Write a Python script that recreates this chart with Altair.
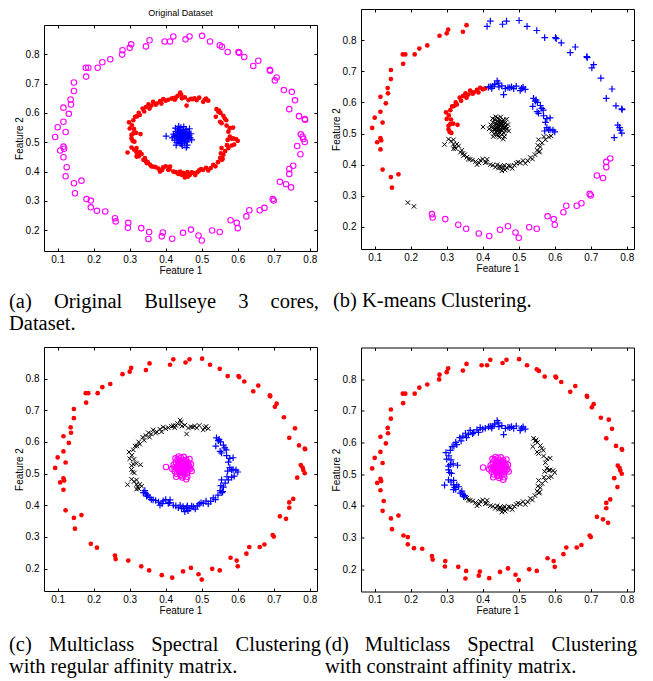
import altair as alt
import pandas as pd

# ---------------- axis settings ----------------
X_TICKS = [0.1, 0.2, 0.3, 0.4, 0.5, 0.6, 0.7, 0.8]
Y_TICKS = [0.2, 0.3, 0.4, 0.5, 0.6, 0.7, 0.8]
X_DOMAIN = [0.062, 0.82]
Y_DOMAIN = [0.129, 0.9]

# ---------------- data ----------------
# outer ring, upper-left arc
outer_upper_left = [
    (0.093, 0.518), (0.100, 0.551), (0.116, 0.570), (0.116, 0.618), (0.122, 0.535),
    (0.107, 0.472), (0.116, 0.485), (0.118, 0.478), (0.116, 0.449), (0.122, 0.384),
    (0.131, 0.597), (0.137, 0.629), (0.136, 0.646), (0.145, 0.675), (0.145, 0.704),
    (0.145, 0.360), (0.148, 0.326), (0.166, 0.369), (0.179, 0.724), (0.178, 0.754),
    (0.185, 0.754), (0.211, 0.754), (0.224, 0.773), (0.246, 0.783), (0.280, 0.814),
    (0.300, 0.822), (0.304, 0.834), (0.345, 0.827), (0.355, 0.848),
]
# outer ring, two points at lower left
outer_lower_left = [(0.192, 0.278), (0.209, 0.266)]
# outer ring, bottom arc
outer_bottom = [
    (0.259, 0.241), (0.261, 0.230), (0.296, 0.225), (0.332, 0.207), (0.354, 0.194),
    (0.389, 0.179), (0.418, 0.171), (0.448, 0.191), (0.470, 0.202), (0.491, 0.182),
    (0.500, 0.165), (0.529, 0.199), (0.550, 0.194), (0.580, 0.234), (0.597, 0.225),
    (0.600, 0.207), (0.624, 0.247), (0.632, 0.268), (0.661, 0.268), (0.674, 0.276),
    (0.697, 0.306), (0.700, 0.301), (0.717, 0.365), (0.734, 0.357), (0.743, 0.392),
    (0.743, 0.409), (0.754, 0.420),
]
# outer ring, upper-right arc
outer_upper_right = [
    (0.412, 0.844), (0.421, 0.861), (0.455, 0.851), (0.466, 0.861), (0.501, 0.863),
    (0.523, 0.844), (0.550, 0.831), (0.572, 0.808), (0.602, 0.808), (0.604, 0.805),
    (0.618, 0.791), (0.643, 0.760), (0.657, 0.778), (0.689, 0.747), (0.690, 0.744),
    (0.703, 0.711), (0.708, 0.721), (0.728, 0.678), (0.743, 0.613), (0.759, 0.643),
    (0.770, 0.589), (0.786, 0.579), (0.787, 0.577), (0.775, 0.527), (0.780, 0.519),
    (0.782, 0.511), (0.786, 0.501), (0.765, 0.487),
]
# outer-ring points visible only in panels (a) and (d)
outer_extra = [
    (0.125, 0.415), (0.180, 0.306), (0.192, 0.301), (0.232, 0.264), (0.279, 0.799),
    (0.397, 0.844), (0.295, 0.208), (0.352, 0.170), (0.392, 0.192), (0.748, 0.346),
    (0.774, 0.459), (0.750, 0.672), (0.556, 0.826),
]

# inner ring, segment by segment (counter-clockwise)
inner_top = [
    (0.512, 0.649), (0.504, 0.638), (0.493, 0.652), (0.486, 0.644), (0.475, 0.647),
    (0.463, 0.644), (0.453, 0.653), (0.458, 0.625), (0.440, 0.669), (0.443, 0.662),
    (0.433, 0.658), (0.428, 0.652), (0.421, 0.651), (0.416, 0.649), (0.518, 0.642),
    (0.470, 0.648), (0.480, 0.650), (0.508, 0.645), (0.445, 0.650), (0.425, 0.645),
]
inner_upper_left = [
    (0.407, 0.645), (0.400, 0.642), (0.393, 0.647), (0.384, 0.640), (0.375, 0.632),
    (0.365, 0.638), (0.360, 0.625), (0.352, 0.629), (0.345, 0.620), (0.336, 0.615),
    (0.340, 0.605), (0.328, 0.593), (0.320, 0.588), (0.315, 0.587), (0.325, 0.600),
    (0.310, 0.575), (0.298, 0.568), (0.306, 0.558), (0.300, 0.547), (0.312, 0.545),
    (0.310, 0.530), (0.305, 0.525), (0.318, 0.532), (0.330, 0.528), (0.305, 0.513),
    (0.313, 0.502), (0.308, 0.505), (0.372, 0.628), (0.388, 0.632), (0.355, 0.615),
]
inner_left = [
    (0.305, 0.482), (0.319, 0.480), (0.294, 0.465), (0.319, 0.466), (0.328, 0.466),
    (0.312, 0.475), (0.322, 0.458), (0.333, 0.460), (0.319, 0.451), (0.325, 0.452),
]
inner_lower_left = [
    (0.342, 0.446), (0.338, 0.440), (0.345, 0.436), (0.350, 0.432), (0.347, 0.429),
]
inner_bottom = [
    (0.356, 0.424), (0.360, 0.418), (0.365, 0.417), (0.372, 0.415), (0.380, 0.410),
    (0.384, 0.400), (0.390, 0.405), (0.393, 0.414), (0.400, 0.418), (0.407, 0.406),
    (0.412, 0.417), (0.421, 0.400), (0.428, 0.398), (0.435, 0.392), (0.444, 0.389),
    (0.448, 0.396), (0.453, 0.380), (0.458, 0.392), (0.462, 0.383), (0.467, 0.389),
    (0.472, 0.397), (0.477, 0.395), (0.482, 0.388), (0.488, 0.398), (0.493, 0.404),
    (0.498, 0.408), (0.504, 0.406), (0.512, 0.413), (0.518, 0.404), (0.525, 0.412),
    (0.532, 0.423), (0.538, 0.418), (0.545, 0.432), (0.551, 0.446), (0.556, 0.440),
    (0.558, 0.443), (0.560, 0.457), (0.553, 0.462), (0.565, 0.470), (0.555, 0.480),
    (0.574, 0.480), (0.583, 0.489), (0.590, 0.492), (0.570, 0.490), (0.410, 0.408),
    (0.440, 0.400), (0.450, 0.390), (0.460, 0.398),
]
inner_right = [
    (0.587, 0.513), (0.595, 0.511), (0.572, 0.508), (0.578, 0.519), (0.574, 0.536),
    (0.587, 0.550), (0.578, 0.548), (0.569, 0.557), (0.564, 0.581), (0.568, 0.575),
    (0.551, 0.570), (0.555, 0.565), (0.539, 0.587), (0.546, 0.604), (0.541, 0.613),
    (0.548, 0.608), (0.552, 0.600), (0.560, 0.590), (0.600, 0.505), (0.583, 0.512),
]
# central core
core = [
    (0.401, 0.521), (0.418, 0.515), (0.422, 0.528), (0.425, 0.507), (0.428, 0.536),
    (0.430, 0.519), (0.431, 0.499), (0.433, 0.545), (0.434, 0.512), (0.435, 0.526),
    (0.436, 0.532), (0.437, 0.505), (0.438, 0.518), (0.439, 0.540), (0.440, 0.522),
    (0.440, 0.496), (0.441, 0.514), (0.442, 0.550), (0.443, 0.528), (0.444, 0.509),
    (0.445, 0.535), (0.446, 0.519), (0.446, 0.488), (0.447, 0.503), (0.448, 0.543),
    (0.449, 0.525), (0.450, 0.514), (0.451, 0.531), (0.452, 0.497), (0.453, 0.521),
    (0.454, 0.508), (0.455, 0.538), (0.456, 0.516), (0.457, 0.482), (0.458, 0.527),
    (0.459, 0.501), (0.460, 0.520), (0.462, 0.534), (0.463, 0.511), (0.465, 0.524),
    (0.466, 0.546), (0.468, 0.515), (0.470, 0.529), (0.472, 0.508), (0.429, 0.490),
    (0.427, 0.548), (0.436, 0.554), (0.450, 0.553), (0.444, 0.494), (0.460, 0.490),
    (0.432, 0.523), (0.439, 0.530), (0.447, 0.512), (0.453, 0.529), (0.441, 0.507),
    (0.457, 0.544), (0.424, 0.520), (0.462, 0.518), (0.435, 0.515), (0.449, 0.536),
]

# cluster label of every segment in each panel
panel_a_labels = [
    (outer_upper_left, "magenta"), (outer_lower_left, "magenta"), (outer_bottom, "magenta"),
    (outer_upper_right, "magenta"), (outer_extra, "magenta"),
    (inner_top, "red"), (inner_upper_left, "red"), (inner_left, "red"),
    (inner_lower_left, "red"), (inner_bottom, "red"), (inner_right, "red"),
    (core, "blue"),
]
panel_b_labels = [
    (outer_upper_left, "red"), (outer_lower_left, "black"), (outer_bottom, "magenta"),
    (outer_upper_right, "blue"),
    (inner_top, "blue"), (inner_upper_left, "red"), (inner_left, "black"),
    (inner_lower_left, "black"), (inner_bottom, "black"), (inner_right, "blue"),
    (core, "black"),
]
panel_c_labels = [
    (outer_upper_left, "red"), (outer_lower_left, "red"), (outer_bottom, "red"),
    (outer_upper_right, "red"),
    (inner_top, "black"), (inner_upper_left, "black"), (inner_left, "black"),
    (inner_lower_left, "blue"), (inner_bottom, "blue"), (inner_right, "blue"),
    (core, "magenta"),
]
panel_d_labels = [
    (outer_upper_left, "red"), (outer_lower_left, "red"), (outer_bottom, "red"),
    (outer_upper_right, "red"), (outer_extra, "red"),
    (inner_top, "blue"), (inner_upper_left, "blue"), (inner_left, "blue"),
    (inner_lower_left, "blue"), (inner_bottom, "black"), (inner_right, "black"),
    (core, "magenta"),
]

# ---------------- styles ----------------
MARKS = {
    "red": dict(shape="circle", filled=True, size=22, color="#FF0000", opacity=1),
    "magenta": dict(shape="circle", filled=False, size=30, strokeWidth=1.1,
                    color="#FF00FF", opacity=1),
    "blue": dict(shape="M-1,0L1,0M0,-1L0,1", filled=False, size=44, strokeWidth=1.2,
                 color="#0000FF", opacity=1),
    "black": dict(shape="M-1,-1L1,1M-1,1L1,-1", filled=False, size=20, strokeWidth=1,
                  color="#000000", opacity=1),
}
DRAW_ORDER = ["magenta", "red", "black", "blue"]

SANS = "Liberation Sans"
SERIF = "Liberation Serif"
CAP_SIZE = 20.5
W = 273


def text_layer(txt, px, py, size=CAP_SIZE, font=SERIF, align="left",
               baseline="alphabetic"):
    return alt.Chart(pd.DataFrame({"k": [0]})).mark_text(
        text=txt, font=font, fontSize=size, align=align, baseline=baseline,
        color="black",
    ).encode(x=alt.value(px), y=alt.value(py))


def panel(labels, height, texts):
    rows = []
    for pts, cls in labels:
        for x, y in pts:
            rows.append({"x": x, "y": y, "cls": cls})
    df = pd.DataFrame(rows)
    xs = alt.Scale(domain=X_DOMAIN, nice=False, zero=False)
    ys = alt.Scale(domain=Y_DOMAIN, nice=False, zero=False)
    base = alt.Chart(df)
    main = base.mark_point(opacity=0).encode(
        x=alt.X("x:Q", scale=xs, axis=alt.Axis(
            orient="bottom", values=X_TICKS, format=".1f", tickSize=3, offset=-3,
            domain=False, grid=False, labelPadding=3, labelFlush=False,
            labelOverlap=False, title="Feature 1", titlePadding=1)),
        y=alt.Y("y:Q", scale=ys, axis=alt.Axis(
            orient="left", values=Y_TICKS, format=".1f", tickSize=3, offset=-3,
            domain=False, grid=False, labelPadding=5, labelFlush=False,
            labelOverlap=False, title="Feature 2", titlePadding=1)),
    )
    mirror = base.mark_point(opacity=0).encode(
        x=alt.X("x:Q", scale=xs, axis=alt.Axis(
            orient="top", values=X_TICKS, tickSize=3, offset=-3, domain=False,
            grid=False, labels=False, title=None)),
        y=alt.Y("y:Q", scale=ys, axis=alt.Axis(
            orient="right", values=Y_TICKS, tickSize=3, offset=-3, domain=False,
            grid=False, labels=False, title=None)),
    )
    layers = [main, mirror]
    present = set(df["cls"])
    for cls in DRAW_ORDER:
        if cls in present:
            layers.append(
                base.transform_filter(alt.datum.cls == cls)
                .mark_point(**MARKS[cls])
                .encode(x=alt.X("x:Q", scale=xs, axis=None),
                        y=alt.Y("y:Q", scale=ys, axis=None))
            )
    layers += texts
    return alt.layer(*layers).resolve_axis(
        x="independent", y="independent").properties(width=W, height=height)


# strip above panel (a) carrying its title
title_a = text_layer("Original Dataset", W / 2, 3.5, size=9, font=SANS,
                     align="center", baseline="middle").properties(
    width=W, height=14, view=alt.ViewBackground(stroke="transparent"))

pa = panel(panel_a_labels, 226, [
    text_layer("(a)", -35, 283),
    text_layer("Original", 9.9, 283),
    text_layer("Bullseye", 100.3, 283),
    text_layer("3", 194.2, 283),
    text_layer("cores,", 275, 283, align="right"),
    text_layer("Dataset.", -35, 305),
])
pb = panel(panel_b_labels, 240, [
    text_layer("(b) K-means Clustering.", -28, 297.5),
])
pc = panel(panel_c_labels, 244, [
    text_layer("(c)", -35, 303.5),
    text_layer("Multiclass", 4.8, 303.5),
    text_layer("Spectral", 107.2, 303.5),
    text_layer("Clustering", 277, 303.5, align="right"),
    text_layer("with regular affinity matrix.", -35, 325.5),
])
pd_ = panel(panel_d_labels, 244, [
    text_layer("(d)", -36, 303.5),
    text_layer("Multiclass", 3.8, 303.5),
    text_layer("Spectral", 106.2, 303.5),
    text_layer("Clustering", 276, 303.5, align="right"),
    text_layer("with constraint affinity matrix.", -36, 325.5),
])

col1 = alt.vconcat(alt.vconcat(title_a, pa, spacing=0), pc, spacing=11)
col2 = alt.vconcat(pb, pd_, spacing=34.5)
chart = alt.hconcat(col1, col2, spacing=2).properties(
    padding=0, background="white"
).configure_view(
    stroke="black", strokeWidth=1
).configure_axis(
    labelFont=SANS, labelFontSize=10, labelColor="black",
    titleFont=SANS, titleFontSize=10, titleFontWeight="normal", titleColor="black",
    tickColor="black", tickWidth=1,
)

chart.save("out.html", embed_options={"renderer": "svg", "actions": False})
